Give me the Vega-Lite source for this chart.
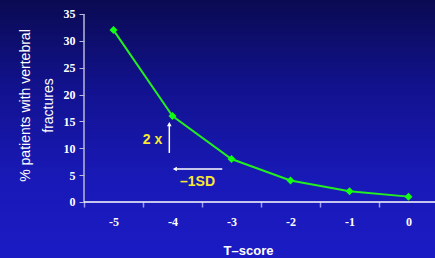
{
  "$schema": "https://vega.github.io/schema/vega-lite/v6.json",
  "width": 435,
  "height": 258,
  "autosize": {"type": "none"},
  "padding": 0,
  "background": "#1a1ab8",
  "config": {
    "view": {
      "stroke": null,
      "fill": {
        "gradient": "linear", "x1": 0, "y1": 0, "x2": 0, "y2": 1,
        "stops": [
          {"offset": 0, "color": "#0a0a52"},
          {"offset": 0.35, "color": "#121290"},
          {"offset": 0.7, "color": "#1919b8"},
          {"offset": 1, "color": "#1b1bc4"}
        ]
      }
    }
  },
  "resolve": {"axis": {"x": "independent", "y": "independent"}},
  "datasets": {
    "fx": [
      {"t": -5, "pct": 32},
      {"t": -4, "pct": 16},
      {"t": -3, "pct": 8},
      {"t": -2, "pct": 4},
      {"t": -1, "pct": 2},
      {"t": 0, "pct": 1}
    ]
  },
  "layer": [
    {
      "data": {"name": "fx"},
      "mark": {"type": "line", "color": "#22ee22", "strokeWidth": 2},
      "encoding": {
        "x": {
          "field": "t", "type": "quantitative",
          "scale": {"domain": [-6.9237, 0.4492], "nice": false, "zero": false},
          "axis": {
            "orient": "bottom", "offset": -56,
            "values": [-5.5, -5, -4.5, -4, -3.5, -3, -2.5, -2, -1.5, -1, -0.5, 0],
            "labelExpr": "datum.value % 1 === 0 ? '' + datum.value : ''",
            "tickOpacity": {"condition": {"test": "datum.value % 1 === 0", "value": 0}, "value": 1},
            "tickSize": 5, "tickColor": "#9a9aff", "tickWidth": 1.5,
            "domain": false, "grid": false,
            "labelFont": "Liberation Serif", "labelFontWeight": "bold", "labelFontSize": 12,
            "labelColor": "#ffffff", "labelPadding": 9, "labelOverlap": false, "labelFlush": false,
            "title": "T–score", "titleFont": "Liberation Sans", "titleFontSize": 13,
            "titleFontWeight": "bold", "titleColor": "#ffffff",
            "titleX": 248, "titleY": 52, "titleAlign": "center", "titleBaseline": "alphabetic"
          }
        },
        "y": {
          "field": "pct", "type": "quantitative",
          "scale": {"domain": [-10.426, 37.606], "nice": false, "zero": false},
          "axis": {
            "orient": "left", "offset": -84,
            "values": [0, 5, 10, 15, 20, 25, 30, 35],
            "domain": false, "grid": false,
            "tickSize": 5, "tickColor": "#b8b8d8", "tickWidth": 1,
            "labelFont": "Liberation Serif", "labelFontWeight": "bold", "labelFontSize": 12,
            "labelColor": "#ffffff", "labelPadding": 4, "labelOverlap": false, "labelFlush": false,
            "title": ["% patients with vertebral", "fractures"],
            "titleFont": "Liberation Sans", "titleFontSize": 14, "titleFontWeight": "normal",
            "titleColor": "#ffffff", "titleX": -59, "titleY": 105, "titleAngle": 270,
            "titleAlign": "center", "titleBaseline": "middle", "titleLineHeight": 23
          }
        }
      }
    },
    {
      "data": {"name": "fx"},
      "mark": {"type": "point", "shape": "diamond", "filled": true, "color": "#11ff11", "size": 64, "opacity": 1},
      "encoding": {
        "x": {"field": "t", "type": "quantitative", "axis": null},
        "y": {"field": "pct", "type": "quantitative", "axis": null}
      }
    },
    {
      "data": {"values": [{}]},
      "mark": {"type": "rule", "color": "#b8b8d8", "strokeWidth": 1.5},
      "encoding": {
        "x": {"datum": -5.5, "type": "quantitative", "axis": null},
        "y": {"datum": 0, "type": "quantitative", "axis": null},
        "y2": {"datum": 35}
      }
    },
    {
      "data": {"values": [{}]},
      "mark": {"type": "rule", "color": "#ffffff", "strokeWidth": 1.5},
      "encoding": {
        "x": {"datum": -5.5, "type": "quantitative", "axis": null},
        "x2": {"datum": 0.4492},
        "y": {"datum": 0, "type": "quantitative", "axis": null}
      }
    },
    {
      "data": {"values": [{}]},
      "mark": {"type": "rule", "color": "#ffffff", "strokeWidth": 1.5},
      "encoding": {
        "x": {"datum": -4.054, "type": "quantitative", "axis": null},
        "y": {"datum": 9.12, "type": "quantitative", "axis": null},
        "y2": {"datum": 14.3}
      }
    },
    {
      "data": {"values": [{}]},
      "mark": {"type": "point", "shape": "triangle-up", "filled": true, "color": "#ffffff", "size": 22, "opacity": 1},
      "encoding": {
        "x": {"datum": -4.054, "type": "quantitative", "axis": null},
        "y": {"datum": 14.5, "type": "quantitative", "axis": null}
      }
    },
    {
      "data": {"values": [{}]},
      "mark": {"type": "rule", "color": "#ffffff", "strokeWidth": 1.5},
      "encoding": {
        "x": {"datum": -3.156, "type": "quantitative", "axis": null},
        "x2": {"datum": -3.93},
        "y": {"datum": 6.14, "type": "quantitative", "axis": null}
      }
    },
    {
      "data": {"values": [{}]},
      "mark": {"type": "point", "shape": "triangle-left", "filled": true, "color": "#ffffff", "size": 22, "opacity": 1},
      "encoding": {
        "x": {"datum": -3.96, "type": "quantitative", "axis": null},
        "y": {"datum": 6.14, "type": "quantitative", "axis": null}
      }
    },
    {
      "data": {"values": [{}]},
      "mark": {"type": "text", "text": "2 x", "font": "Liberation Sans", "fontWeight": "bold", "fontSize": 14, "color": "#f8e830", "align": "center", "baseline": "middle"},
      "encoding": {
        "x": {"datum": -4.339, "type": "quantitative", "axis": null},
        "y": {"datum": 11.45, "type": "quantitative", "axis": null}
      }
    },
    {
      "data": {"values": [{}]},
      "mark": {"type": "text", "text": "–1SD", "font": "Liberation Sans", "fontWeight": "bold", "fontSize": 14, "color": "#f8e830", "align": "center", "baseline": "middle"},
      "encoding": {
        "x": {"datum": -3.576, "type": "quantitative", "axis": null},
        "y": {"datum": 3.72, "type": "quantitative", "axis": null}
      }
    }
  ]
}
